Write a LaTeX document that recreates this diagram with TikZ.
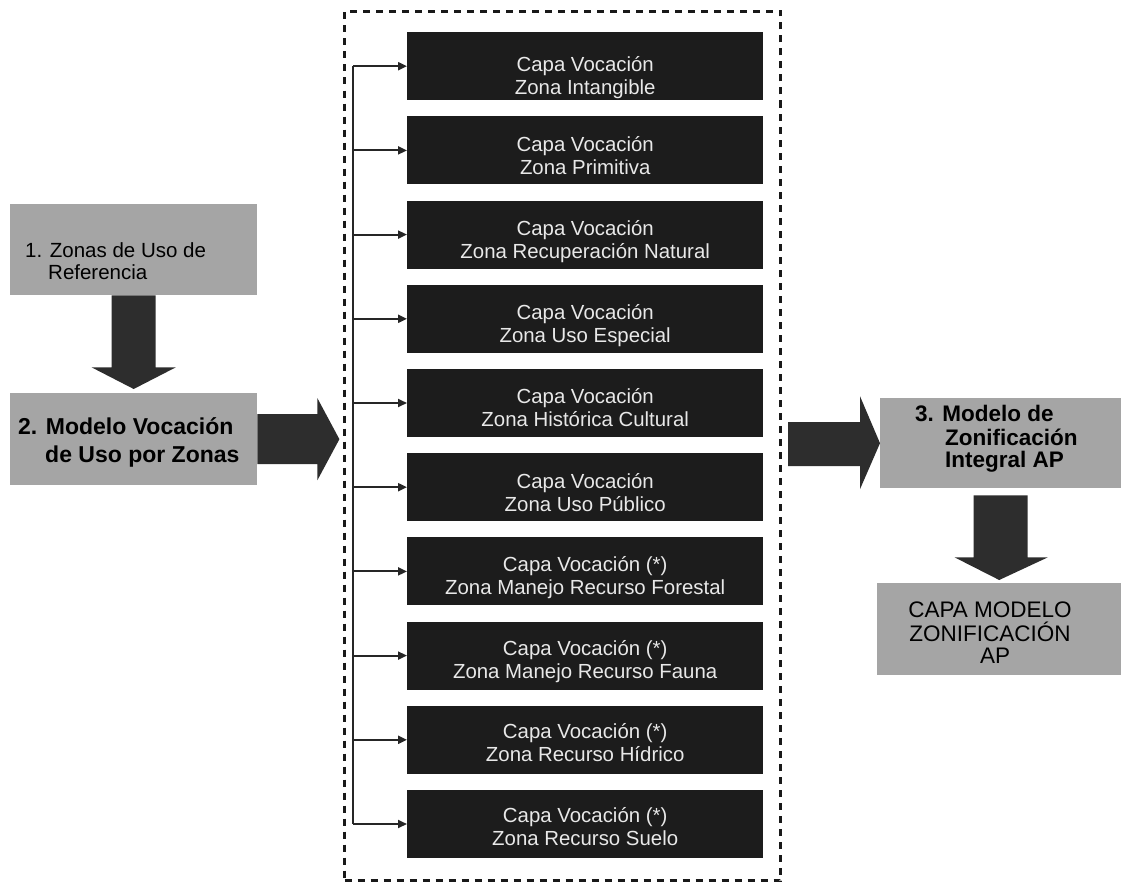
\documentclass[tikz,border=0pt]{standalone}
\usepackage{fontspec}
\setmainfont{Liberation Sans}
\usetikzlibrary{arrows.meta,calc}
\definecolor{boxgray}{RGB}{165,165,165}
\definecolor{boxdark}{RGB}{28,28,28}
\definecolor{textlight}{RGB}{232,232,232}
\definecolor{arrowdark}{RGB}{45,45,45}
\begin{document}
\begin{tikzpicture}[x=1pt,y=-1pt,
  graybox/.style={fill=boxgray, draw=none, inner sep=0pt, anchor=north west},
  darkbox/.style={fill=boxdark, draw=none, inner sep=0pt, anchor=north west, minimum width=356pt, minimum height=68pt},
  darktext/.style={text=textlight, inner sep=0pt, anchor=base, font=\fontsize{20.4}{24}\selectfont},
  graytext/.style={inner sep=0pt, anchor=base west, font=\fontsize{20.5}{24}\selectfont},
  boldtext/.style={inner sep=0pt, anchor=base west, font=\fontsize{23}{26}\selectfont\bfseries},
  captext/.style={inner sep=0pt, anchor=base, font=\fontsize{22.5}{26}\selectfont},
  feed/.style={line width=2pt, draw=black!85, -{Triangle[length=9pt,width=8pt]}},
  busline/.style={line width=2.2pt, draw=black!85},
  blockarrow/.style={fill=arrowdark, draw=none},
  groupbox/.style={draw=black!90, line width=3pt, dash pattern=on 7pt off 6pt, inner sep=0pt, anchor=north west, minimum width=436pt, minimum height=869pt}
]
\useasboundingbox (0,0) rectangle (1125,883);
\fill[white] (0,0) rectangle (1125,883);

% left column
\node[graybox, minimum width=247pt, minimum height=91pt] (zonas) at (10,204) {};
\node[graytext] (zonasA) at (25,257) {1. Zonas de Uso de};
\node[graytext] (zonasB) at (48,279) {Referencia};

\node[graybox, minimum width=247pt, minimum height=92pt] (modelo) at (10,393) {};
\node[boldtext] (modeloA) at (18,434) {2. Modelo Vocación};
\node[boldtext] (modeloB) at (45,462) {de Uso por Zonas};

% down arrow 1 -> 2
\fill[blockarrow] ($(zonas.south)+(-22,0)$) -- ($(zonas.south)+(22,0)$) -- ($(zonas.south)+(22,72)$)
  -- ($(zonas.south)+(42,72)$) -- ($(modelo.north)+(0,-4)$) -- ($(zonas.south)+(-42,72)$)
  -- ($(zonas.south)+(-22,72)$) -- cycle;

% right arrow 2 -> group
\fill[blockarrow] ($(modelo.east)+(0,-25)$) -- ($(modelo.east)+(60,-25)$) -- ($(modelo.east)+(60,-41)$)
  -- ($(modelo.east)+(82,0)$) -- ($(modelo.east)+(60,41)$) -- ($(modelo.east)+(60,25)$)
  -- ($(modelo.east)+(0,25)$) -- cycle;

% dashed group
\node[groupbox] (grp) at (343,10) {};
\coordinate (bus) at (353,0);

\foreach \i/\la/\lb/\dy in {
  1/Capa Vocación/Zona Intangible/5,
  2/Capa Vocación/Zona Primitiva/0,
  3/Capa Vocación/Zona Recuperación Natural/0,
  4/Capa Vocación/Zona Uso Especial/0,
  5/Capa Vocación/Zona Histórica Cultural/0,
  6/Capa Vocación/Zona Uso Público/0,
  7/Capa Vocación (*)/Zona Manejo Recurso Forestal/-1,
  8/Capa Vocación (*)/Zona Manejo Recurso Fauna/-1,
  9/Capa Vocación (*)/Zona Recurso Hídrico/-2,
  10/Capa Vocación (*)/Zona Recurso Suelo/-2}{
  \pgfmathsetmacro\ytop{32+84.2*(\i-1)}
  \node[darkbox] (v\i) at (407,\ytop) {};
  \node[darktext] (va\i) at ($(v\i.north)+(0,35+\dy)$) {\la};
  \node[darktext] (vb\i) at ($(v\i.north)+(0,58+\dy)$) {\lb};
  \draw[feed] (v\i.west -| bus) -- (v\i.west);
}
\draw[busline] (v1.west -| bus) -- (v10.west -| bus);

% right column
\node[graybox, minimum width=241pt, minimum height=90pt] (integral) at (880,398) {};
\node[boldtext, font=\fontsize{22.5}{26}\selectfont\bfseries] (integralA) at (915,421) {3. Modelo de};
\node[boldtext, font=\fontsize{22.5}{26}\selectfont\bfseries] (integralB) at (945,445) {Zonificación};
\node[boldtext, font=\fontsize{22.5}{26}\selectfont\bfseries] (integralC) at (945,467) {Integral AP};

\node[graybox, minimum width=244pt, minimum height=92pt] (capa) at (877,583) {};
\node[captext] (capaA) at (990,617) {CAPA MODELO};
\node[captext] (capaB) at (990,641) {ZONIFICACIÓN};
\node[captext] (capaC) at (995,663) {AP};

% arrow group -> 3
\fill[blockarrow] ($(integral.west)+(-92,-21)$) -- ($(integral.west)+(-20,-21)$) -- ($(integral.west)+(-20,-47)$)
  -- (integral.west) -- ($(integral.west)+(-20,46)$) -- ($(integral.west)+(-20,23)$)
  -- ($(integral.west)+(-92,23)$) -- cycle;

% arrow 3 -> capa
\fill[blockarrow] ($(integral.south)+(-27,7)$) -- ($(integral.south)+(27,7)$) -- ($(integral.south)+(27,69)$)
  -- ($(integral.south)+(47,69)$) -- ($(capa.north)+(0,-3)$) -- ($(integral.south)+(-46,69)$)
  -- ($(integral.south)+(-27,69)$) -- cycle;
\end{tikzpicture}
\end{document}
